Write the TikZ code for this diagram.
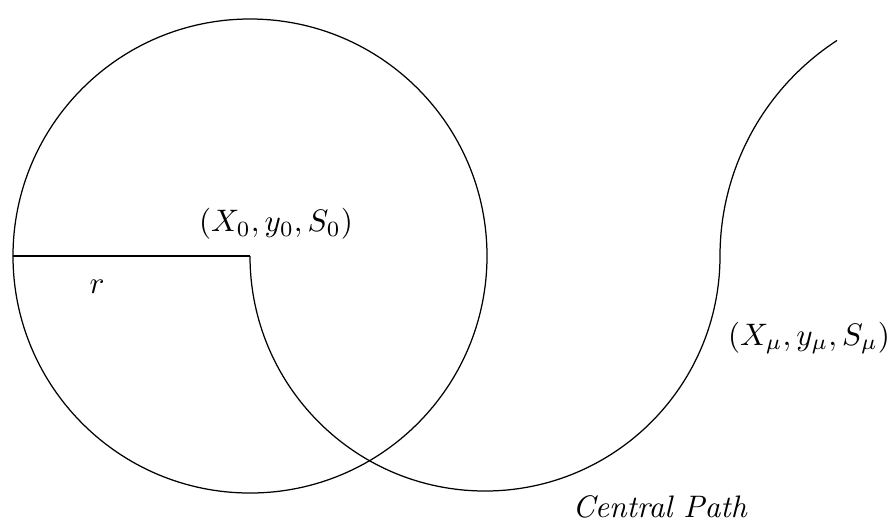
\documentclass[tikz,border=0pt]{standalone}
\begin{document}
\begin{tikzpicture}[x=1.13mm,y=1.13mm]
\useasboundingbox (0,0) rectangle (89.2,52.6);
\coordinate (c0) at (25,27);
\coordinate (rim) at (1.3,27);
\coordinate (cmu) at (72,27);

\draw (c0) circle [radius=23.7];
\draw (rim) -- (c0);
\draw (c0) arc[start angle=180,end angle=360,radius=23.5]
  arc[start angle=180,end angle=123,radius=25.7];

\node (lr) at (9.7,23.9) {$r$};
\node (l0) at (27.6,30.2) {$(X_0,y_0,S_0)$};
\node (lmu) at (80.9,18.8) {$(X_\mu,y_\mu,S_\mu)$};
\node (lpath) at (66.0,1.9) {\textit{Central Path}};
\end{tikzpicture}
\end{document}
